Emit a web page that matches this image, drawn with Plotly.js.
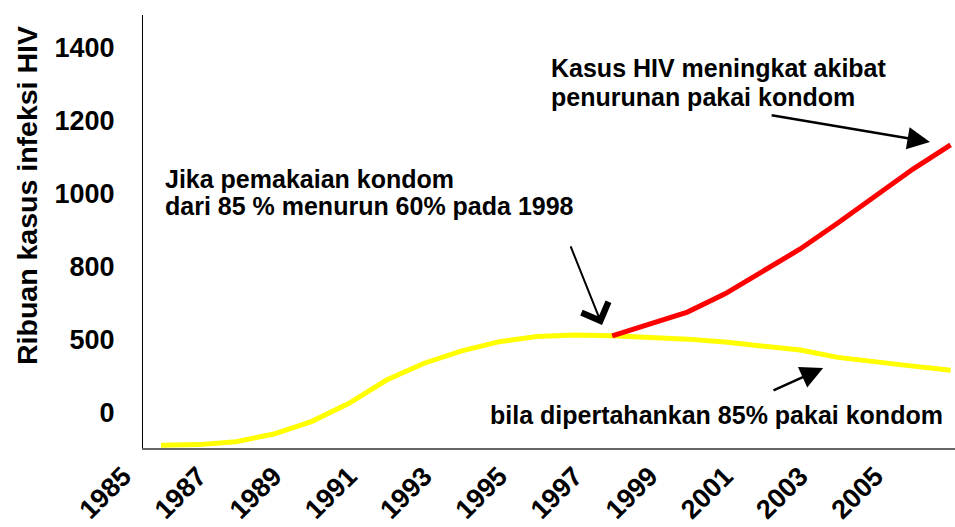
<!DOCTYPE html>
<html>
<head>
<meta charset="utf-8">
<script src="https://cdn.plot.ly/plotly-3.0.1.min.js"></script>
<style>html,body{margin:0;padding:0;background:#fff;}#chart{width:955px;height:527px;}</style>
</head>
<body>
<div id="chart"></div>
<script>
// Years on the horizontal axis
const years = [1986,1987,1988,1989,1990,1991,1992,1993,1994,1995,1996,1997,1998,1999,2000,2001,2002,2003,2004,2005,2006,2007];
// Yellow: condom use kept at 85%
const keep85 = [10,12,20,41,75,125,189,235,269,294,308,312,310,307,301,293,282,271,251,238,227,216];
// Red: condom use dropping to 60% from 1998
const dropYears = [1998,1999,2000,2001,2002,2003,2004,2005,2006,2007];
const drop60 = [310,342,375,425,485,548,619,693,767,833];
// Axis tick labels
const xTickVals = [1985,1987,1989,1991,1993,1995,1997,1999,2001,2003,2005];
const xTickText = ['1985','1987','1989','1991','1993','1995','1997','1999','2001','2003','2005'];
const yTickVals = [100,300,500,700,900,1100];
const yTickText = ['0','500','800','1000','1200','1400'];
const yTitle = 'Ribuan kasus infeksi HIV';

const FONT = 'Liberation Sans, Arial, sans-serif';

const traces = [
  {x: years, y: keep85, type: 'scatter', mode: 'lines', line: {color: '#FFFF00', width: 5}, hoverinfo: 'skip'},
  {x: dropYears, y: drop60, type: 'scatter', mode: 'lines', line: {color: '#FF0000', width: 5}, hoverinfo: 'skip'}
];

const txtFont = {family: FONT, size: 25, color: '#000', weight: 'bold'};
function label(x, y, text) {
  return {x: x, y: y, xref: 'x', yref: 'y', xanchor: 'left', yanchor: 'middle', align: 'left', showarrow: false, text: text, font: txtFont};
}

const layout = {
  width: 955, height: 527,
  margin: {l: 110, r: 0, t: 15, b: 78},
  paper_bgcolor: '#fff', plot_bgcolor: '#fff',
  showlegend: false,
  xaxis: {
    range: [1984.644, 2007.117],
    tickvals: xTickVals, ticktext: xTickText, tickangle: -45,
    tickfont: {family: FONT, size: 27, color: '#000', weight: 'bold'},
    showgrid: false, zeroline: false, showline: false, ticks: '',
    ticklabelstandoff: 5, fixedrange: true
  },
  yaxis: {
    range: [0, 1189],
    anchor: 'free', position: 0.0379,
    tickvals: yTickVals, ticktext: yTickText,
    tickfont: {family: FONT, size: 27, color: '#000', weight: 'bold'},
    showgrid: false, zeroline: false, showline: true, linecolor: '#000', linewidth: 1,
    ticks: '', ticklabelstandoff: 22,
    fixedrange: true
  },
  shapes: [
    {type: 'line', xref: 'paper', yref: 'paper', x0: 0.0379, x1: 1, y0: 0, y1: 0, line: {color: '#666', width: 2}}
  ],
  annotations: [
    {x: -0.0982, y: 0.583, xref: 'paper', yref: 'paper', xanchor: 'center', yanchor: 'middle', textangle: -90, showarrow: false,
     text: yTitle, font: {family: FONT, size: 28.5, color: '#000', weight: 'bold'}},
    label(1986.05, 740, 'Jika pemakaian kondom'),
    label(1986.05, 667, 'dari 85 % menurun 60% pada 1998'),
    label(1996.32, 1044, 'Kasus HIV meningkat akibat'),
    label(1996.32, 964, 'penurunan pakai kondom'),
    label(1994.70, 93, 'bila dipertahankan 85% pakai kondom'),
    {x: 1997.73, y: 340, ax: 1996.88, ay: 559, xref: 'x', yref: 'y', axref: 'x', ayref: 'y', text: '', showarrow: true,
     arrowhead: 4, arrowsize: 2.8, arrowwidth: 2, arrowcolor: '#000', standoff: 0},
    {x: 2006.45, y: 841, ax: 2002.20, ay: 915, xref: 'x', yref: 'y', axref: 'x', ayref: 'y', text: '', showarrow: true,
     arrowhead: 2, arrowsize: 1.8, arrowwidth: 2.5, arrowcolor: '#000', standoff: 0},
    {x: 2003.61, y: 222, ax: 2002.25, ay: 159, xref: 'x', yref: 'y', axref: 'x', ayref: 'y', text: '', showarrow: true,
     arrowhead: 2, arrowsize: 1.8, arrowwidth: 2.5, arrowcolor: '#000', standoff: 0}
  ]
};

Plotly.newPlot('chart', traces, layout, {displayModeBar: false, staticPlot: true});
</script>
</body>
</html>
